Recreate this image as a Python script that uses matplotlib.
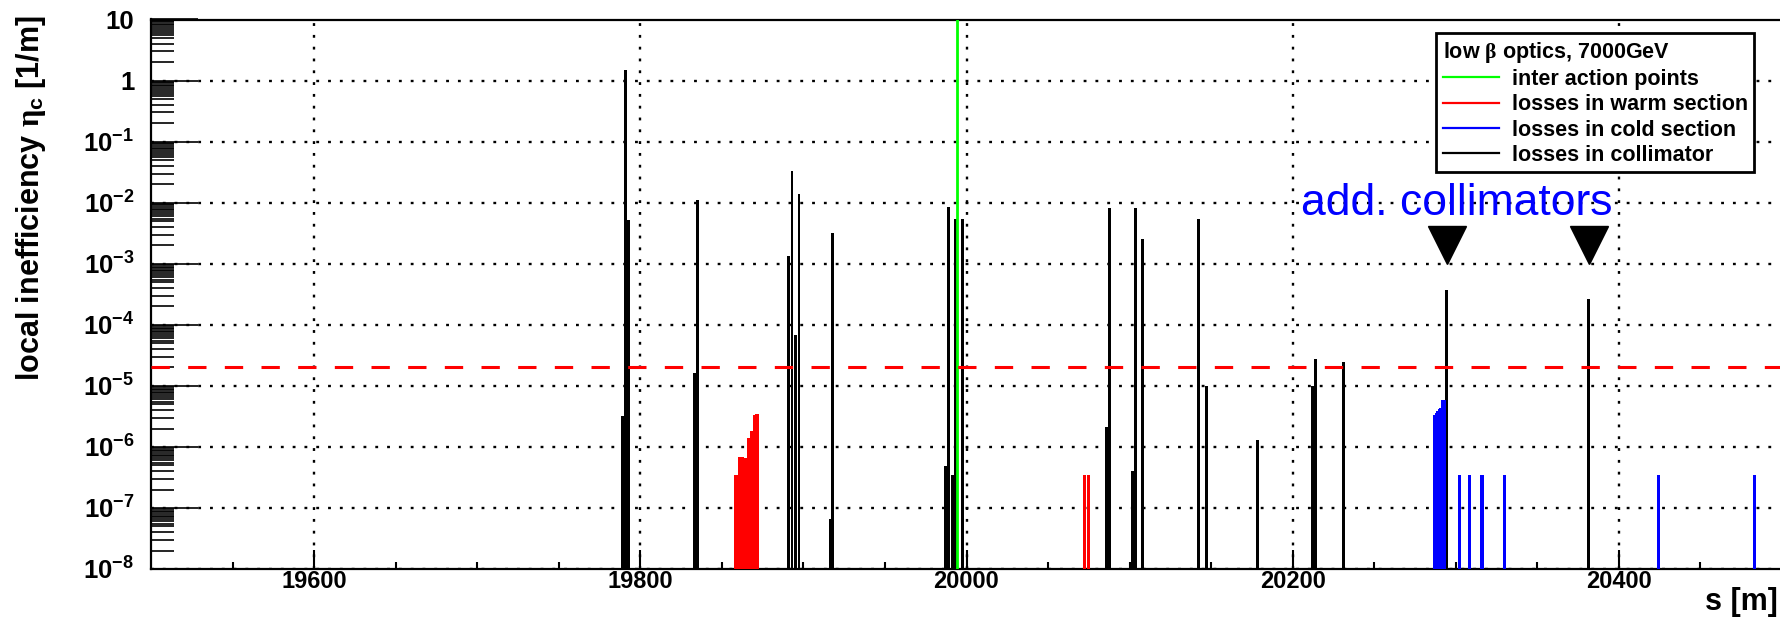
import matplotlib.pyplot as plt
from matplotlib.lines import Line2D
from matplotlib.ticker import FixedLocator, LogLocator, FuncFormatter, NullFormatter
import numpy as np

plt.rcParams['font.family'] = ['Liberation Sans', 'DejaVu Sans']
plt.rcParams['font.weight'] = 'bold'
plt.rcParams['mathtext.fontset'] = 'custom'
plt.rcParams['mathtext.rm'] = 'Liberation Sans:bold'
plt.rcParams['mathtext.bf'] = 'Liberation Sans:bold'
plt.rcParams['mathtext.it'] = 'Liberation Serif'

# losses in collimators (black)
coll_s = [19789.2, 19791.0, 19793.0, 19833.2, 19835.0, 19891.0, 19893.0, 19895.0,
          19897.3, 19916.3, 19918.0, 19987.0, 19989.2, 19991.5, 19993.0, 19997.8,
          20085.7, 20087.6, 20101.8, 20103.7, 20107.9, 20142.4, 20147.4, 20178.3,
          20212.2, 20214.0, 20231.4, 20294.4, 20381.5]
coll_eta = [3.2e-6, 1.5, 5.2e-3, 1.6e-5, 1.1e-2, 1.35e-3, 3.3e-2, 6.8e-5,
            1.4e-2, 6.6e-8, 3.2e-3, 4.9e-7, 8.5e-3, 3.4e-7, 5.4e-3, 5.4e-3,
            2.1e-6, 8.1e-3, 4.0e-7, 8.1e-3, 2.5e-3, 5.4e-3, 1.0e-5, 1.3e-6,
            1.0e-5, 2.7e-5, 2.5e-5, 3.7e-4, 2.6e-4]

# losses in warm section (red)
warm_s = [19858, 19859, 19860, 19861, 19862, 19863, 19864, 19865, 19866, 19867,
          19868, 19869, 19870, 19871, 19872, 20072.2, 20074.9]
warm_eta = [3.5e-7, 3.5e-7, 3.5e-7, 6.9e-7, 6.9e-7, 6.8e-7, 6.6e-7, 6.6e-7, 1.4e-6, 1.4e-6,
            1.8e-6, 1.8e-6, 3.3e-6, 3.4e-6, 3.5e-6, 3.4e-7, 3.4e-7]

# losses in cold section (blue)
cold_s = [20287, 20288, 20289, 20290, 20291, 20292, 20293,
          20302.3, 20308.2, 20316.0, 20330.0, 20424.2, 20483.0]
cold_eta = [3.3e-6, 3.6e-6, 3.9e-6, 4.2e-6, 4.3e-6, 5.9e-6, 5.9e-6,
            3.4e-7, 3.5e-7, 3.4e-7, 3.4e-7, 3.4e-7, 3.5e-7]

ip_s = [19994.0]
limit = 2e-5
new_coll_s = [20294.4, 20381.5]

ymin = 1e-8

fig = plt.figure(figsize=(17.8, 6.37), dpi=100)
ax = fig.add_axes([151 / 1780, 1 - 569 / 637, 1631 / 1780, 549.5 / 637])

ax.bar(coll_s, np.array(coll_eta) - ymin, bottom=ymin, width=1.8,
       color='black', linewidth=0, zorder=3)
ax.bar(warm_s, np.array(warm_eta) - ymin, bottom=ymin, width=1.6,
       color='#ff0000', linewidth=0, zorder=3)
ax.bar(cold_s, np.array(cold_eta) - ymin, bottom=ymin, width=2.0,
       color='#0000ff', linewidth=0, zorder=3)
for s in ip_s:
    ax.axvline(s, color='#00ff00', lw=2.0, zorder=4)
ax.axhline(limit, color='#ff0000', lw=2.2, linestyle=(0, (6, 6)), zorder=5)

# markers for the added collimators
ax.plot(new_coll_s, [2e-3] * len(new_coll_s), linestyle='none', marker='v',
        ms=27, color='black', zorder=5)
ax.text(20205, 6.3e-3, 'add. collimators', color='#0000ff', fontsize=32,
        fontweight='normal', va='baseline', zorder=6)

ax.set_yscale('log')
ax.set_xlim(19500, 20500)
ax.set_ylim(1e-8, 10)

ax.xaxis.set_major_locator(FixedLocator([19600, 19800, 20000, 20200, 20400]))
ax.xaxis.set_minor_locator(FixedLocator(np.arange(19550, 20500, 50)))
ax.yaxis.set_major_locator(LogLocator(base=10, numticks=30))
ax.yaxis.set_minor_locator(LogLocator(base=10, subs=[2, 3, 4, 5, 5.5, 6, 6.5, 7, 7.5, 8, 8.5, 9, 9.5],
                                      numticks=200))
ax.yaxis.set_minor_formatter(NullFormatter())


def ylab(v, pos):
    e = int(round(np.log10(v)))
    if e == 1:
        return '10'
    if e == 0:
        return '1'
    return r'$\mathbf{10^{%d}}$' % e


ax.yaxis.set_major_formatter(FuncFormatter(ylab))

ax.tick_params(axis='both', which='both', direction='in')
ax.tick_params(axis='y', which='major', length=34, width=1.2, pad=12, labelsize=18.5)
ax.tick_params(axis='y', which='minor', length=16.5, width=1.2)
ax.tick_params(axis='x', which='major', length=13.5, width=1.5, pad=0.5, labelsize=17)
ax.tick_params(axis='x', which='minor', length=5, width=1.5)

ax.grid(True, which='major', color='black', linestyle=(0, (1.2, 3.8)), linewidth=1.7, zorder=1)
ax.set_axisbelow(True)

for sp in ['left', 'bottom', 'top']:
    ax.spines[sp].set_linewidth(1.6)
ax.spines['right'].set_visible(False)

fig.text(31 / 1780, 1 - 15 / 637, r'local inefficiency $\eta_{\mathbf{c}}$ [1/m]', rotation=90,
         ha='center', va='top', fontsize=22, fontweight='bold')
fig.text(0.999, 1 - 602 / 637, 's [m]', ha='right', va='center', fontsize=22, fontweight='bold')

handles = [Line2D([], [], color='#00ff00', lw=1.6),
           Line2D([], [], color='#ff0000', lw=1.6),
           Line2D([], [], color='#0000ff', lw=1.6),
           Line2D([], [], color='black', lw=1.6)]
labels = ['inter action points', 'losses in warm section', 'losses in cold section',
          'losses in collimator']
leg = ax.legend(handles, labels, loc='upper left', bbox_to_anchor=(0.788, 0.975),
                title=r'low $\beta$ optics, 7000GeV', alignment='left', fontsize=15.5,
                title_fontproperties={'weight': 'bold', 'size': 15.5},
                frameon=True, fancybox=False, edgecolor='black', framealpha=1,
                borderpad=0.3, labelspacing=0.2, handlelength=2.6, handletextpad=0.6,
                borderaxespad=0)
leg.get_frame().set_linewidth(2.0)
leg.set_zorder(10)

fig.savefig('out.png', dpi=100)
